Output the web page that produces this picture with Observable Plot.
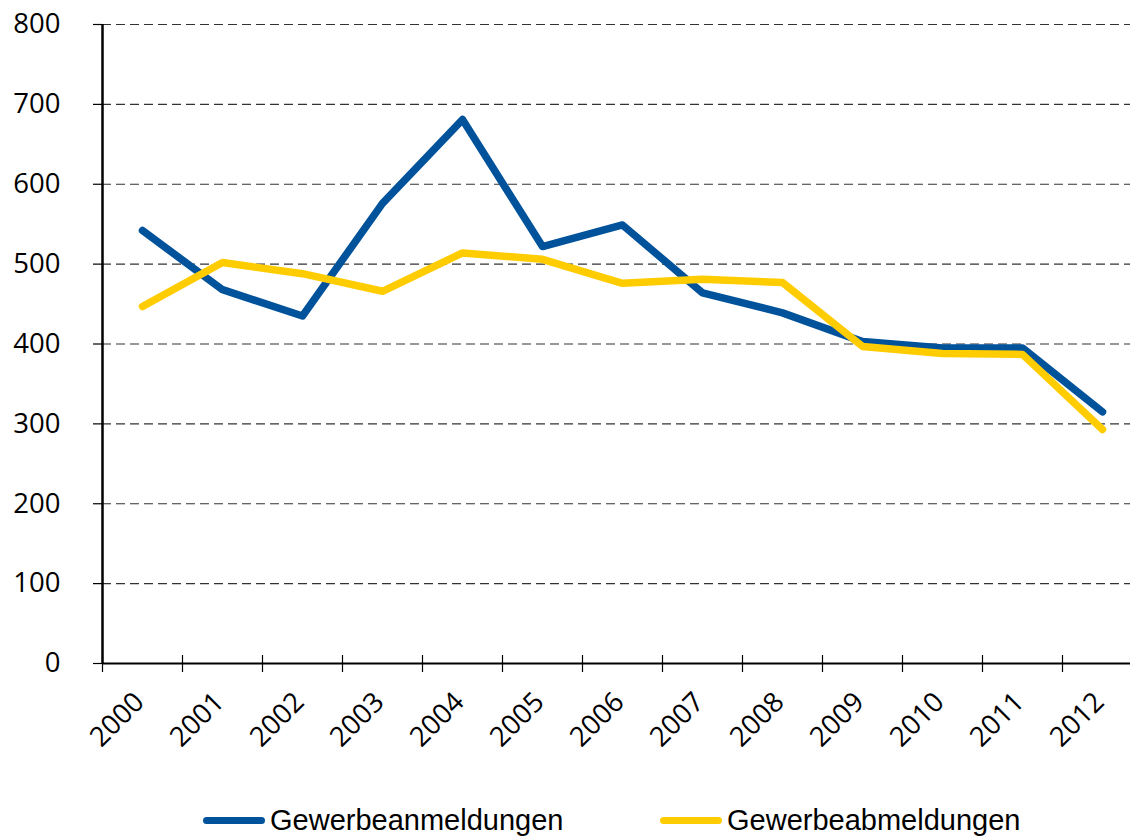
<!DOCTYPE html>
<html>
<head>
<meta charset="utf-8">
<script src="https://cdn.jsdelivr.net/npm/d3@7"></script>
<script src="https://cdn.jsdelivr.net/npm/@observablehq/plot@0.6"></script>
<style>
  html, body { margin: 0; padding: 0; background: #fff; }
  #chart svg { display: block; }
  #legend { position: relative; height: 50px; font-family: "Liberation Sans", Arial, sans-serif; font-size: 29px; color: #000; }
  .item { position: absolute; top: 14px; display: flex; align-items: center; }
  .swatch { width: 62px; height: 7px; border-radius: 4px; margin-right: 5px; }
</style>
</head>
<body>
<div id="chart"></div>
<div id="legend"></div>
<script>
const years = [2000, 2001, 2002, 2003, 2004, 2005, 2006, 2007, 2008, 2009, 2010, 2011, 2012];
const anmeldungen = [542, 468, 435, 576, 681, 522, 549, 464, 439, 403, 395, 395, 315];
const abmeldungen = [447, 502, 488, 466, 514, 506, 476, 481, 477, 397, 388, 387, 293];
const seriesNames = ["Gewerbeanmeldungen", "Gewerbeabmeldungen"];
const seriesColors = ["#00529b", "#ffcc00"];
const yTicks = [0, 100, 200, 300, 400, 500, 600, 700, 800];
const gridValues = [100, 200, 300, 400, 500, 600, 700, 800];

const rows = [];
years.forEach((yr, i) => {
  rows.push({year: yr, value: anmeldungen[i], series: seriesNames[0]});
  rows.push({year: yr, value: abmeldungen[i], series: seriesNames[1]});
});
const bandEdges = years.map(y => y - 0.5);

const tickFont = '"Open Sans", "Noto Sans", sans-serif';

const chart = Plot.plot({
  width: 1130,
  height: 790,
  marginLeft: 102,
  marginRight: 0,
  marginTop: 24,
  marginBottom: 127,
  style: {fontFamily: tickFont, fontSize: "27px", color: "#000", background: "#fff"},
  x: {type: "linear", domain: [1999.5, 2012.35], axis: null},
  y: {domain: [0, 800], axis: null},
  color: {domain: seriesNames, range: seriesColors},
  marks: [
    Plot.ruleY(gridValues, {stroke: "#333", strokeWidth: 1.2, strokeDasharray: "9,5"}),
    Plot.axisY({ticks: yTicks, tickSize: 9, tickPadding: 33, tickFormat: d => String(d), label: null, fontSize: 27.5, stroke: "#000", strokeWidth: 1.2, fill: "#000"}),
    Plot.ruleY([0], {stroke: "#000", strokeWidth: 2}),
    Plot.ruleX(bandEdges, {y1: 0, y2: 0, insetTop: 9, insetBottom: 8, stroke: "#000", strokeWidth: 1.2}),
    Plot.ruleX([1999.5], {stroke: "#000", strokeWidth: 2.5}),
    Plot.text(years, {x: d => d, y: 0, text: d => String(d), rotate: -45, textAnchor: "end", dx: -3, dy: 34, fontSize: 27.5, fill: "#000"}),
    Plot.line(rows, {x: "year", y: "value", stroke: "series", z: "series", strokeWidth: 7.5, strokeLinecap: "round", strokeLinejoin: "round"})
  ]
});
document.getElementById("chart").appendChild(chart);

const legend = document.getElementById("legend");
const lefts = [203, 660];
seriesNames.forEach((name, i) => {
  const item = document.createElement("div");
  item.className = "item";
  item.style.left = lefts[i] + "px";
  const sw = document.createElement("div");
  sw.className = "swatch";
  sw.style.background = seriesColors[i];
  const label = document.createElement("span");
  label.textContent = name;
  item.appendChild(sw);
  item.appendChild(label);
  legend.appendChild(item);
});
</script>
</body>
</html>
